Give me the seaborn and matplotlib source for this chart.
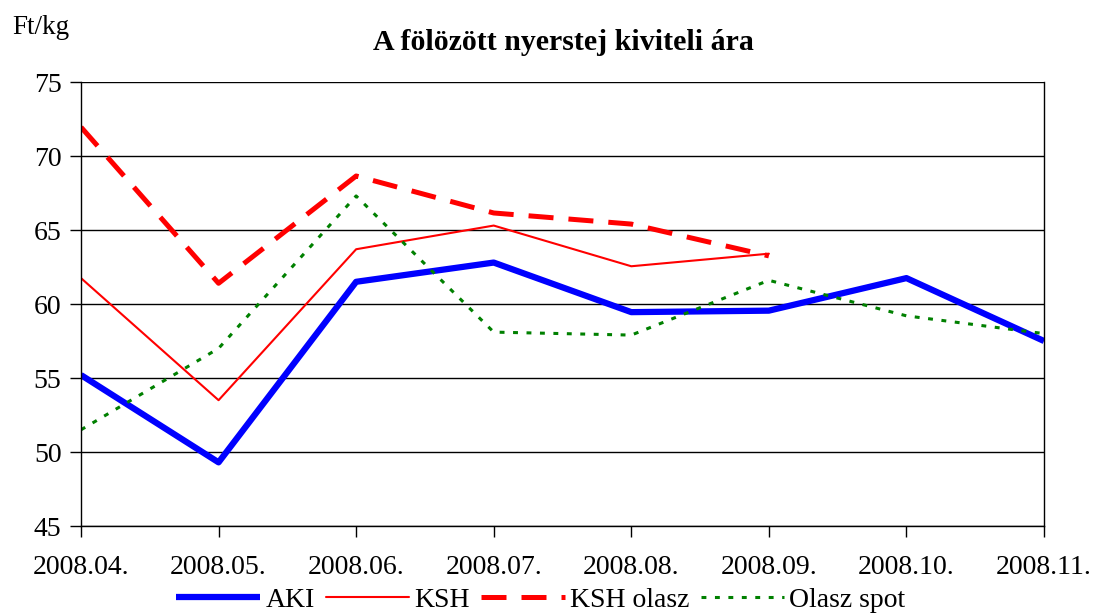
import matplotlib
matplotlib.use("Agg")
import matplotlib.pyplot as plt
import seaborn as sns
import pandas as pd

months = ["2008.04.", "2008.05.", "2008.06.", "2008.07.", "2008.08.", "2008.09.", "2008.10.", "2008.11."]
aki = [55.2, 49.3, 61.5, 62.8, 59.45, 59.55, 61.75, 57.5]
ksh = [61.75, 53.5, 63.7, 65.3, 62.55, 63.4]
ksh_olasz = [71.95, 61.4, 68.65, 66.15, 65.4, 63.25]
olasz_spot = [51.5, 57.0, 67.3, 58.1, 57.9, 61.6, 59.2, 58.0]

sns.set_theme(style="white")
plt.rcParams['font.family'] = ['Liberation Serif', 'DejaVu Serif']

fig = plt.figure(figsize=(10.95, 6.16), dpi=100)
ax = fig.add_axes([81/1095, 1-526/616, (1044-81)/1095, (526-82)/616])

series = [
    ("AKI", aki, dict(color="#0000FF", linewidth=4.5, linestyle="-", solid_capstyle="butt")),
    ("KSH", ksh, dict(color="#FF0000", linewidth=1.5, linestyle="-")),
    ("KSH olasz", ksh_olasz, dict(color="#FF0000", linewidth=3.6, linestyle=(0, (5, 3)), dash_capstyle="butt")),
    ("Olasz spot", olasz_spot, dict(color="#008000", linewidth=2.2, linestyle=(0, (1.6, 2.8)), dash_capstyle="butt")),
]

for name, vals, style in series:
    df = pd.DataFrame({"x": list(range(len(vals))), "y": vals})
    sns.lineplot(data=df, x="x", y="y", ax=ax, label=name, **style)

ax.set_xlim(0, len(months) - 1)
ax.set_ylim(45, 75)
ax.set_yticks(range(45, 80, 5))
ax.set_xticks(range(len(months)))
ax.set_xticklabels(months)
ax.set_xlabel("")
ax.set_ylabel("")
ax.yaxis.grid(True, color="black", linewidth=1)
ax.set_axisbelow(True)
for s in ["left", "bottom", "right"]:
    ax.spines[s].set_visible(True)
    ax.spines[s].set_color("black")
    ax.spines[s].set_linewidth(1)
ax.spines["top"].set_visible(False)
ax.tick_params(axis="both", which="both", direction="out", length=8, width=1, color="black",
               labelsize=20, labelcolor="black", bottom=True, left=True)
ax.tick_params(axis="x", pad=13)
ax.tick_params(axis="y", pad=6)

fig.text(563/1095, 1-42/616, "A fölözött nyerstej kiviteli ára", ha="center", va="center",
         fontsize=21.5, fontweight="bold", color="black")
fig.text(12/1095, 1-28/616, "Ft/kg", ha="left", va="center", fontsize=19.5, color="black")

leg = ax.legend(loc="center", bbox_to_anchor=(541/1095, 1-600/616), bbox_transform=fig.transFigure,
                ncol=4, frameon=False, fontsize=20, handlelength=3.0, handletextpad=0.2,
                columnspacing=0.4, borderaxespad=0)
for t in leg.get_texts():
    t.set_color("black")

fig.savefig("out.png", dpi=100)
